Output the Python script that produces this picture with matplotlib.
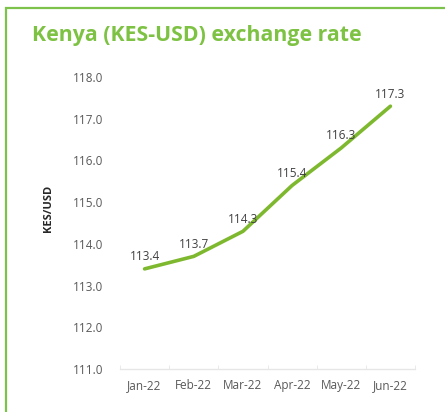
import matplotlib
matplotlib.use("Agg")
import matplotlib.pyplot as plt
from matplotlib.patches import Rectangle

months = ["Jan-22", "Feb-22", "Mar-22", "Apr-22", "May-22", "Jun-22"]
rates = [113.4, 113.7, 114.3, 115.4, 116.3, 117.3]
yticks = [111.0, 112.0, 113.0, 114.0, 115.0, 116.0, 117.0, 118.0]

plt.rcParams['font.family'] = ['Open Sans', 'DejaVu Sans']

W, H = 445, 412
fig = plt.figure(figsize=(W / 100, H / 100), dpi=100)
fig.patch.set_facecolor('white')

# green frame (left and top)
fig.add_artist(Rectangle((6 / W, -0.05), 1.2, 1 - 8 / H + 0.05, transform=fig.transFigure,
                         fill=False, edgecolor='#7DC24B', linewidth=1.6))

fig.text(32 / W, 1 - 35 / H, "Kenya (KES-USD) exchange rate", fontsize=15.3, fontweight='bold',
         color='#7DC243', ha='left', va='center')

ax = fig.add_axes([120 / W, 1 - 369 / H, 295 / W, 292 / H])
x = list(range(len(months)))
ax.plot(x, rates, color='#7EB82E', linewidth=2.6, solid_capstyle='round')
for xi, v in zip(x, rates):
    ax.annotate(f"{v:.1f}", (xi, v), xytext=(0, 4), textcoords='offset points',
                ha='center', va='bottom', fontsize=8.5, color='#404040')

ax.set_xlim(-0.5, len(months) - 0.5)
ax.set_ylim(111, 118)
ax.set_yticks(yticks)
ax.set_yticklabels([f"{t:.1f}" for t in yticks])
ax.set_xticks(x)
ax.set_xticklabels(months)
ax.set_xticks([i - 0.5 for i in range(len(months) + 1)], minor=True)
ax.tick_params(axis='x', which='major', length=0, pad=7, labelsize=8.5, labelcolor='#595959')
ax.tick_params(axis='x', which='minor', length=3, color='#E6E6E6', direction='in')
ax.tick_params(axis='y', length=0, pad=12, labelsize=8.5, labelcolor='#595959')
for s in ['top', 'right', 'left']:
    ax.spines[s].set_visible(False)
ax.spines['bottom'].set_color('#E6E6E6')
ax.spines['bottom'].set_linewidth(1)

fig.text(48 / W, 1 - 208 / H, "KES/USD", rotation=90, fontsize=8, fontweight='bold',
         color='#262626', ha='center', va='center')

fig.savefig("out.png", dpi=100)
